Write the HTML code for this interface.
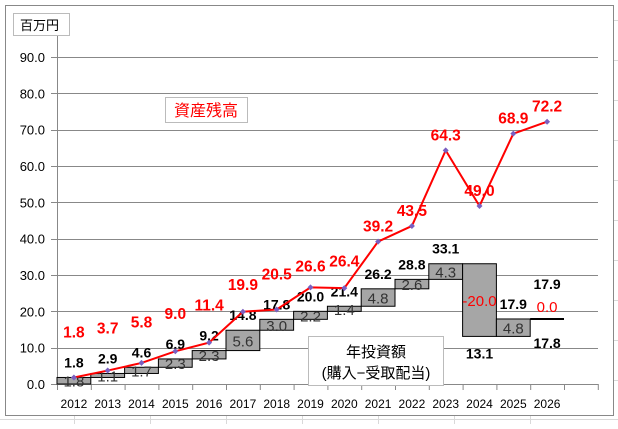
<!DOCTYPE html>
<html><head><meta charset="utf-8"><style>
body{margin:0;background:#fff;width:618px;height:424px;overflow:hidden;font-family:"Liberation Sans","Noto Sans CJK JP",sans-serif}
</style></head><body>
<svg id="c" width="618" height="424" xmlns="http://www.w3.org/2000/svg" font-family="Liberation Sans, Noto Sans CJK JP, sans-serif">
<g stroke="#d9d9d9" stroke-width="1">
<line x1="0" y1="419.5" x2="618" y2="419.5"/><line x1="74.5" y1="416" x2="74.5" y2="424"/><line x1="150.5" y1="416" x2="150.5" y2="424"/><line x1="226.5" y1="416" x2="226.5" y2="424"/><line x1="302.5" y1="416" x2="302.5" y2="424"/><line x1="378.5" y1="416" x2="378.5" y2="424"/><line x1="454.5" y1="416" x2="454.5" y2="424"/><line x1="530.5" y1="416" x2="530.5" y2="424"/>
<line x1="614" y1="20.5" x2="618" y2="20.5"/><line x1="614" y1="60.5" x2="618" y2="60.5"/><line x1="614" y1="100.5" x2="618" y2="100.5"/><line x1="614" y1="140.5" x2="618" y2="140.5"/><line x1="614" y1="180.5" x2="618" y2="180.5"/><line x1="614" y1="220.5" x2="618" y2="220.5"/><line x1="614" y1="260.5" x2="618" y2="260.5"/><line x1="614" y1="300.5" x2="618" y2="300.5"/><line x1="614" y1="340.5" x2="618" y2="340.5"/><line x1="614" y1="380.5" x2="618" y2="380.5"/>
</g>
<rect x="5.5" y="5.5" width="608" height="410" fill="#fff" stroke="#888"/>
<g id="plot"></g>
<g><rect x="13.5" y="13.5" width="56" height="22" fill="#fff" stroke="#bbb"/><text x="20" y="30" font-size="13">百万円</text></g>
<g><rect x="165.5" y="97.5" width="82" height="25" fill="#fff" stroke="#bbb"/><text x="206" y="116" font-size="16" fill="#f00" text-anchor="middle">資産残高</text></g>
<g><rect x="308.5" y="336.5" width="135" height="49" fill="#fff" stroke="#bbb"/><text x="376" y="357" font-size="15" text-anchor="middle">年投資額</text><text x="376" y="378" font-size="15" text-anchor="middle">(購入−受取配当)</text></g>
</svg>
<script>
const years=["2012","2013","2014","2015","2016","2017","2018","2019","2020","2021","2022","2023","2024","2025","2026"];
const annual=[1.8,1.1,1.7,2.3,2.3,5.6,3.0,2.2,1.4,4.8,2.6,4.3,-20.0,4.8,0.0];
const cumulative=[1.8,2.9,4.6,6.9,9.2,14.8,17.8,20.0,21.4,26.2,28.8,33.1,13.1,17.9,17.9];
const balance=[1.8,3.7,5.8,9.0,11.4,19.9,20.5,26.6,26.4,39.2,43.5,64.3,49.0,68.9,72.2];
const yTicks=[0,10,20,30,40,50,60,70,80,90];
const NS="http://www.w3.org/2000/svg";
const g=document.getElementById('plot');
const X0=57,X1=598,BW=33.8,Y0=384,YS=36.33/10;
const y=v=>Y0-v*YS, xc=i=>X0+BW*(i+0.5);
function mk(t,a,txt){const e=document.createElementNS(NS,t);for(const k in a)e.setAttribute(k,a[k]);if(txt!=null)e.textContent=txt;g.appendChild(e);return e;}
yTicks.forEach(v=>{
 const l=mk('line',{x1:v===0?X0-6:X0,x2:X1,y1:Math.round(y(v))+.5,y2:Math.round(y(v))+.5,stroke:'#888'});
 
 
 const tk=mk('line',{x1:X0-6,x2:X0,y1:Math.round(y(v))+.5,y2:Math.round(y(v))+.5,stroke:'#888'});
 
 
 const t=mk('text',{x:45,y:y(v)+5,'font-size':13,'text-anchor':'end'},v.toFixed(1));
 
 
});
const ax=mk('line',{x1:X0+.5,x2:X0+.5,y1:y(90)-28,y2:Y0+6,stroke:'#888'});


for(let i=0;i<=16;i++){const tk=mk('line',{x1:X0+BW*i+.5,x2:X0+BW*i+.5,y1:Y0,y2:Y0+6,stroke:'#888'});
 
 }
years.forEach((yr,i)=>{
 const prev=i?cumulative[i-1]:0,cur=cumulative[i];
 const top=y(Math.max(prev,cur)),bot=y(Math.min(prev,cur));
 const h=Math.max(bot-top,0);
 if(h>0.5){const r=mk('rect',{x:X0+BW*i,y:top,width:BW,height:h,fill:'#a6a6a6',stroke:'#000','stroke-width':1});
  
  }
 else{const r=mk('line',{x1:X0+BW*i,x2:X0+BW*(i+1),y1:top,y2:top,stroke:'#000','stroke-width':2});
  
  }
 const neg=annual[i]<0;
 const at=mk('text',{x:xc(i),y:(top+bot)/2+6,'font-size':15,'text-anchor':'middle',fill:(neg||annual[i]===0)?'#f00':'#333'},annual[i].toFixed(1));
 if(h<=0.5)at.setAttribute('y',top-7);
 
 
 const below=cur<prev;
 const ct=mk('text',{x:xc(i),y:below?bot+22:top-10,'font-size':14,'font-weight':'bold','text-anchor':'middle'},cur.toFixed(1));
 if(h<=0.5)ct.setAttribute('y',top-30);
 
 
 if(h<=0.5){const c2=mk('text',{x:xc(i),y:top+29,'font-size':14,'font-weight':'bold','text-anchor':'middle'},(cur-0.1).toFixed(1));
  
  }
 const xl=mk('text',{x:xc(i),y:408,'font-size':12,'text-anchor':'middle'},yr);
 
 
});
const pl=mk('polyline',{points:balance.map((v,i)=>xc(i)+','+y(v)).join(' '),fill:'none',stroke:'#f00','stroke-width':2});


balance.forEach((v,i)=>{
 const px=xc(i),py=y(v);
 const m=mk('path',{d:`M${px} ${py-3}L${px+3} ${py}L${px} ${py+3}L${px-3} ${py}Z`,fill:'#7a5fc0'});
 
 
 const prev=i?cumulative[i-1]:0,top=y(Math.max(prev,cumulative[i]));
 const ly=Math.min(py-10,top-40);
 const t=mk('text',{x:px,y:ly,'font-size':15.5,'font-weight':'bold',fill:'#f00','text-anchor':'middle'},v.toFixed(1));
 
 
});
</script>
</body></html>
